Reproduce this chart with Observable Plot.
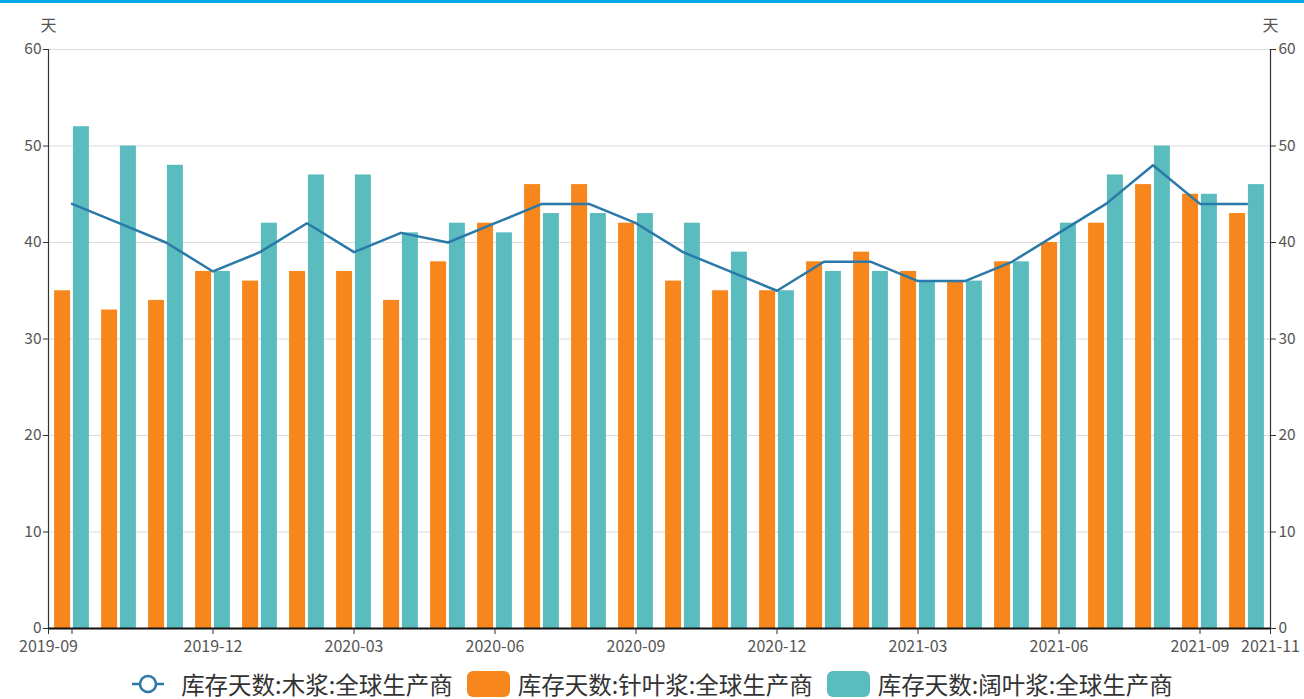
<!DOCTYPE html>
<html>
<head>
<meta charset="utf-8">
<script src="https://cdn.jsdelivr.net/npm/d3@7"></script>
<script src="https://cdn.jsdelivr.net/npm/@observablehq/plot@0.6"></script>
<style>
  html, body { margin: 0; padding: 0; background: #fff; overflow: hidden; }
  #topbar { height: 3px; background: #00a8e8; width: 1304px; }
  #chart svg { display: block; }
  #legend { position: absolute; top: 670px; left: 0; width: 1304px; display: flex; justify-content: center; align-items: center; height: 28px;
    font-family: "Noto Sans CJK SC", sans-serif; font-size: 23.5px; line-height: 28px; color: #333; white-space: nowrap; }
  .item { display: flex; align-items: center; margin: 0 7px; }
  .item svg { margin-right: 8px; }
  .item.first svg { margin-right: 16px; }
</style>
</head>
<body>
<div id="topbar"></div>
<div id="chart"></div>
<div id="legend"></div>
<script>
const months = ["2019-09","2019-10","2019-11","2019-12","2020-01","2020-02","2020-03","2020-04","2020-05","2020-06","2020-07","2020-08","2020-09","2020-10","2020-11","2020-12","2021-01","2021-02","2021-03","2021-04","2021-05","2021-06","2021-07","2021-08","2021-09","2021-10"];
const pulp     = [44,42,40,37,39,42,39,41,40,42,44,44,42,39,37,35,38,38,36,36,38,41,44,48,44,44];
const softwood = [35,33,34,37,36,37,37,34,38,42,46,46,42,36,35,35,38,39,37,36,38,40,42,46,45,43];
const hardwood = [52,50,48,37,42,47,47,41,42,41,43,43,43,42,39,35,37,37,36,36,38,42,47,50,45,46];
const seriesNames = ["库存天数:木浆:全球生产商","库存天数:针叶浆:全球生产商","库存天数:阔叶浆:全球生产商"];
const yTicks = [0,10,20,30,40,50,60];
const unitLabel = "天";
const startLabel = "2019-09";
const endLabel = "2021-11";

const colors = { line: "#2a79a8", soft: "#f7861c", hard: "#5bbcbf" };

const data = months.map((m, i) => ({ i, month: m, pulp: pulp[i], soft: softwood[i], hard: hardwood[i] }));
const n = months.length;
const xMin = -0.5, xMax = n - 0.5;

const xTickVals = [xMin, 0];
for (let i = 3; i < n; i += 3) xTickVals.push(i);
xTickVals.push(xMax);
const xTickFmt = v => v === xMin ? startLabel : v === xMax ? endLabel : (v === 0 ? "" : months[v]);

const font = `"Noto Sans CJK SC", sans-serif`;

const chart = Plot.plot({
  width: 1304,
  height: 662,
  marginLeft: 48,
  marginRight: 34,
  marginTop: 46,
  marginBottom: 37,
  style: { fontSize: "15px", fontFamily: font, color: "#555", background: "#fff" },
  x: { type: "linear", domain: [xMin, xMax] },
  y: { domain: [0, 60] },
  marks: [
    Plot.gridY(yTicks.slice(1), { stroke: "#dcdcdc", strokeOpacity: 1 }),
    Plot.rectY(data, { x1: d => d.i - 0.37, x2: d => d.i - 0.03, y1: 0, y2: "soft", fill: colors.soft }),
    Plot.rectY(data, { x1: d => d.i + 0.03, x2: d => d.i + 0.37, y1: 0, y2: "hard", fill: colors.hard }),
    Plot.line(data, { x: "i", y: "pulp", stroke: colors.line, strokeWidth: 2.5 }),
    Plot.ruleX([xMin, xMax], { stroke: "#333", strokeWidth: 1.2 }),
    Plot.ruleY([0], { stroke: "#111", strokeWidth: 2.2 }),
    Plot.axisY({ anchor: "left", ticks: yTicks, tickSize: 5, tickPadding: 2, label: null, stroke: "#333", fontSize: 15.5 }),
    Plot.axisY({ anchor: "right", ticks: yTicks, tickSize: 5, tickPadding: 3, label: null, stroke: "#333", fontSize: 15.5 }),
    Plot.axisX({ ticks: xTickVals, tickFormat: xTickFmt, tickSize: 6, tickPadding: 6, label: null, stroke: "#333", fontSize: 16 }),
    Plot.text([unitLabel], { x: xMin, y: 60, dy: -24, fontSize: 16, fill: "#555" }),
    Plot.text([unitLabel], { x: xMax, y: 60, dy: -24, fontSize: 16, fill: "#555" })
  ]
});
document.getElementById("chart").appendChild(chart);

const legend = document.getElementById("legend");
const swatches = [
  `<svg width="34" height="22"><line x1="1" y1="11" x2="33" y2="11" stroke="${colors.line}" stroke-width="2.5"/><circle cx="17" cy="11" r="8" fill="#fff" stroke="${colors.line}" stroke-width="2.5"/></svg>`,
  `<svg width="43" height="26"><rect x="0" y="0" width="43" height="26" rx="6" fill="${colors.soft}"/></svg>`,
  `<svg width="43" height="26"><rect x="0" y="0" width="43" height="26" rx="6" fill="${colors.hard}"/></svg>`
];
seriesNames.forEach((name, k) => {
  const it = document.createElement("div");
  it.className = "item" + (k === 0 ? " first" : "");
  it.innerHTML = swatches[k] + `<span>${name}</span>`;
  legend.appendChild(it);
});
</script>
</body>
</html>
